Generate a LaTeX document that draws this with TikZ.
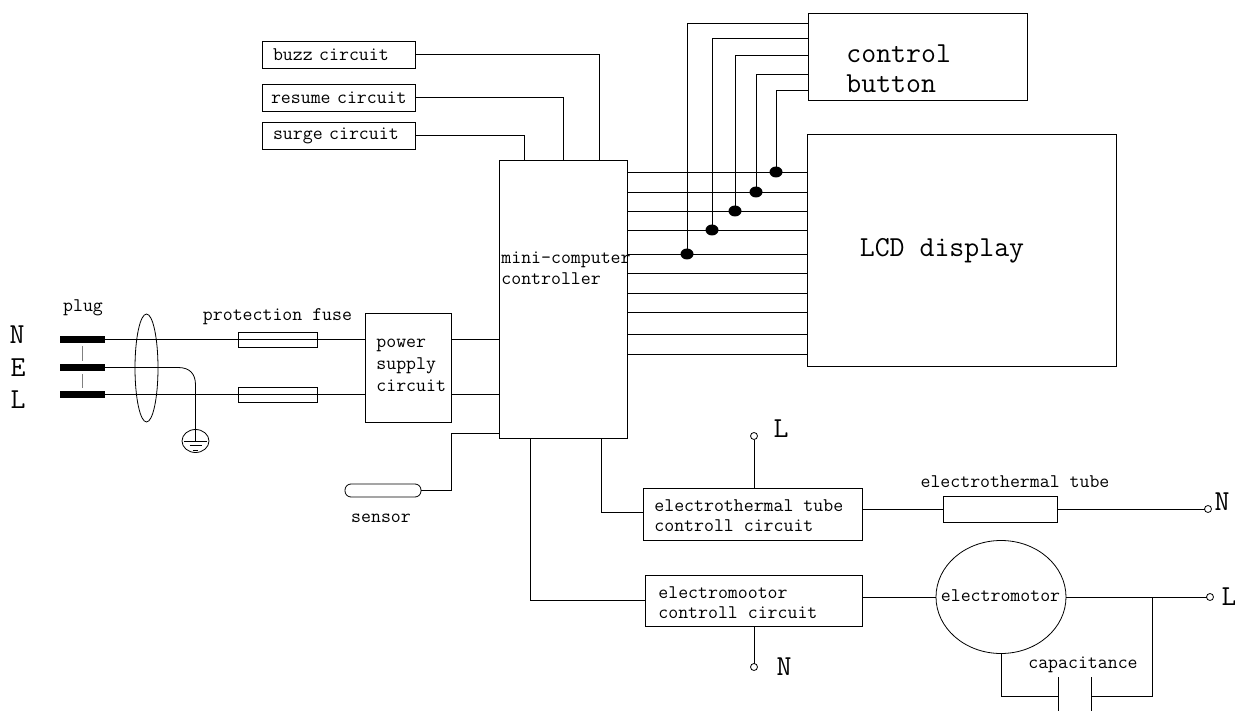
\documentclass[tikz,border=0pt]{standalone}
\usepackage{amsmath,amssymb}
\usepackage{tikz}
\usetikzlibrary{shapes.geometric}
\tikzset{
  smalltxt/.style={font=\ttfamily\fontsize{19.3}{20.5}\selectfont},
  bigtxt/.style={font=\ttfamily\fontsize{29}{30}\selectfont},
  boxtxt/.style={smalltxt,anchor=north west,align=left,inner sep=0pt},
  boxed/.style 2 args={draw,smalltxt,anchor=north west,outer sep=0pt,inner xsep=10pt,inner ysep=0pt,
    text width=#1pt-20pt,minimum height=#2pt,align=left},
  fusebox/.style={draw,anchor=north west,outer sep=0pt,inner sep=0pt,minimum width=79pt,minimum height=15pt},
  plugbar/.style={fill=black,anchor=north west,outer sep=0pt,inner sep=0pt,minimum width=45pt,minimum height=7pt},
  bussdot/.style={fill=black,ellipse,outer sep=0pt,inner sep=0pt,minimum width=13pt,minimum height=11pt},
  termin/.style={draw,circle,outer sep=0pt,inner sep=0pt,minimum size=7pt},
}
\begin{document}
\begin{tikzpicture}[x=1pt,y=-1pt,line width=0.8pt]
  \useasboundingbox (0,0) rectangle (1235,711);
  \node[boxed={153}{27},inner xsep=11pt,text width=131pt] (buzz) at (262,41) {buzz circuit};
  \node[boxed={153}{27},inner xsep=9pt,text width=135pt] (resume) at (262,84) {\mbox{resume circuit}};
  \node[boxed={153}{27},inner xsep=11pt,text width=131pt] (surge) at (262,122) {surge circuit};
  \node[boxed={128}{278}] (mcu) at (499,160) {};
  \node[boxtxt] (mcutxt) at (501,252) {mini-computer\\controller};
  \node[boxed={219}{87}] (btn) at (808,13) {};
  \node[bigtxt,anchor=north west,align=left,inner sep=0pt] (btntxt) at (846,44) {control\\button};
  \node[boxed={309}{232}] (lcd) at (807,134) {};
  \node[bigtxt] (lcdtxt) at (942,251) {LCD display};
  \draw (buzz.east) -| ([xshift=100pt]mcu.north west);
  \draw (resume.east) -| ([xshift=64pt]mcu.north west);
  \draw (surge.east) -| ([xshift=25pt]mcu.north west);
  \foreach \o in {12,32,51,70,94,113,133,152,174,194}
    \draw ([yshift=-\o pt]mcu.north east) -- ([yshift=-\o pt]lcd.west |- mcu.north east);
  \foreach \n/\x/\y/\o in {a/776/172/77,b/756/192/61,c/735/211/42,d/712/230/25,e/687/254/10.5} {
    \node[bussdot] (dot\n) at (\x,\y) {};
    \draw (dot\n.center) |- ([yshift=-\o pt]btn.north west);
  }

  \node[bigtxt] (nlab) at (17,335) {N};
  \node[bigtxt] (elab) at (18,368) {E};
  \node[bigtxt] (llab) at (18,400) {L};
  \node[smalltxt] (pluglab) at (83,308) {plug};
  \node[plugbar] (plugn) at (60,336) {};
  \node[plugbar] (pluge) at (60,364) {};
  \node[plugbar] (plugl) at (60,391) {};
  \draw[gray,line width=1pt] ([yshift=-3pt]plugn.south) -- ([yshift=3pt]pluge.north);
  \draw[gray,line width=1pt] ([yshift=-3pt]pluge.south) -- ([yshift=3pt]plugl.north);
  \node[draw,ellipse,outer sep=0pt,inner sep=0pt,minimum width=23pt,minimum height=108pt] (cable) at (146.5,368) {};
  \node[smalltxt] (fuselab) at (277.5,317) {protection fuse};
  \node[fusebox] (fusen) at (238.5,332) {};
  \node[fusebox] (fusel) at (238.5,387) {};
  \node[boxed={86}{109}] (power) at (365,313) {};
  \node[boxtxt,font=\ttfamily\fontsize{19.3}{22}\selectfont] (powertxt) at (376,339) {power\\supply\\circuit};
  \draw (plugn.east) -- (plugn.east -| power.west);
  \draw (plugl.east) -- (plugl.east -| power.west);
  \draw (power.east |- plugn.east) -- (mcu.west |- plugn.east);
  \draw (power.east |- plugl.east) -- (mcu.west |- plugl.east);
  \node[draw,ellipse,outer sep=0pt,inner sep=0pt,minimum width=27pt,minimum height=23pt] (gnd) at (195.5,441) {};
  \draw (pluge.east) -- (178,367.5) .. controls (190,367.5) and (195.5,374) .. (195.5,385) -- (gnd.center);
  \draw ([xshift=-11.5pt]gnd.center) -- ([xshift=11.5pt]gnd.center);
  \draw ([xshift=-6pt,yshift=-4.5pt]gnd.center) -- ([xshift=6pt,yshift=-4.5pt]gnd.center);
  \draw ([xshift=-2.5pt,yshift=-9pt]gnd.center) -- ([xshift=2.5pt,yshift=-9pt]gnd.center);

  \node[draw,rounded corners=6pt,anchor=north west,outer sep=0pt,inner sep=0pt,minimum width=76pt,minimum height=13pt] (sensor) at (345,484) {};
  \node[smalltxt] (sensorlab) at (381,518) {sensor};
  \draw (sensor.east) -- ++(30,0) |- ([yshift=-273pt]mcu.north west);

  \node[boxed={219}{52}] (heatctl) at (643,488) {};
  \node[boxtxt] (heattxt) at (654,499) {electrothermal tube\\controll circuit};
  \node[boxed={217}{51}] (motorctl) at (645,575) {};
  \node[boxtxt] (motortxt) at (658,586) {electromootor\\controll circuit};
  \draw ([xshift=102pt]mcu.south west) |- ([yshift=-24pt]heatctl.north west);
  \draw ([xshift=31pt]mcu.south west) |- (motorctl.west);
  \node[termin] (heatl) at (754,436) {};
  \node[bigtxt] (heatllab) at (781,429) {L};
  \draw (heatl) -- (heatl |- heatctl.north);
  \node[termin] (motorn) at (754,667) {};
  \node[bigtxt] (motornlab) at (784,667) {N};
  \draw (motorn) -- (motorn |- motorctl.south);

  \node[smalltxt] (tubelab) at (1015,482) {electrothermal tube};
  \node[draw,anchor=north west,outer sep=0pt,inner sep=0pt,minimum width=114pt,minimum height=26pt] (tube) at (943,496) {};
  \node[termin] (heatn) at (1208,509) {};
  \node[bigtxt] (heatnlab) at (1222,502) {N};
  \draw (heatctl.east |- tube.west) -- (tube.west);
  \draw (tube.east) -- (heatn);

  \node[draw,ellipse,outer sep=0pt,inner sep=0pt,minimum width=130pt,minimum height=113pt] (motor) at (1001,597) {};
  \node[smalltxt] (motorlab) at (1000.5,596) {electromotor};
  \node[termin] (motorl) at (1210,597) {};
  \node[bigtxt] (motorllab) at (1229,597) {L};
  \draw (motorctl.east |- motor.west) -- (motor.west);
  \draw (motor.east) -- (motorl);
  \node[smalltxt] (caplab) at (1083,665) {capacitance};
  \coordinate (capa) at (1058.7,696);
  \coordinate (capb) at (1091.7,696);
  \draw (capa |- 0,677) -- (capa |- 0,711);
  \draw (capb |- 0,677) -- (capb |- 0,711);
  \draw (motor.south) |- (capa);
  \draw (capb) -| (1152,597);
\end{tikzpicture}
\end{document}
